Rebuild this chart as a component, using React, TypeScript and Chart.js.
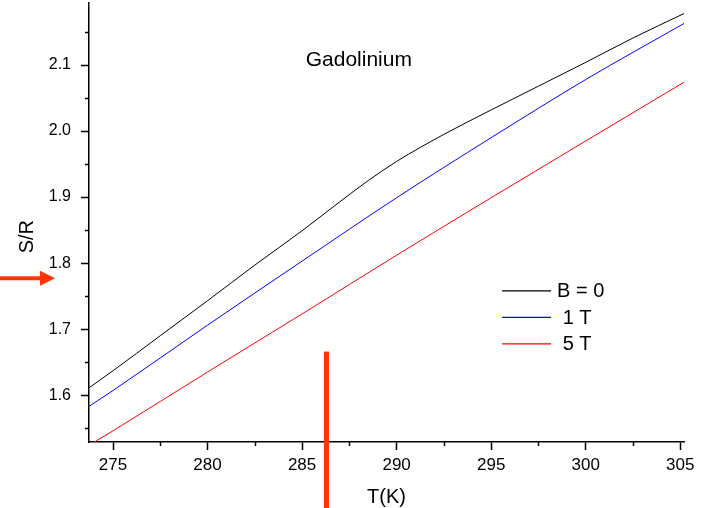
import React, { useEffect, useRef } from "react";
import { Chart, registerables } from "chart.js";
Chart.register(...registerables);

// ---- data ----
const T_B0 = [273.73, 275, 277.5, 280, 282.5, 285, 287, 288.5, 290, 292.5, 295, 297.5, 300, 302.5, 305.2];
const S_B0 = [1.611, 1.637, 1.690, 1.743, 1.797, 1.849, 1.893, 1.925, 1.954, 1.995, 2.032, 2.068, 2.104, 2.141, 2.178];

const T_1T = [273.73, 275, 280, 285, 290, 295, 300, 305.2];
const S_1T = [1.583, 1.607, 1.706, 1.803, 1.899, 1.990, 2.078, 2.163];

const T_5T = [273.73, 275, 280, 285, 290, 295, 300, 305.2];
const S_5T = [1.524, 1.546, 1.635, 1.723, 1.812, 1.899, 1.985, 2.074];

const SERIES_LABELS = ["B = 0", " 1 T", " 5 T"];
const SERIES_COLORS = ["#000000", "#0000ff", "#ff0000"];

const X_MAJOR = [275, 280, 285, 290, 295, 300, 305];
const X_MINOR = [277.5, 282.5, 287.5, 292.5, 297.5, 302.5];
const Y_MAJOR = [1.6, 1.7, 1.8, 1.9, 2.0, 2.1];
const Y_MINOR = [1.55, 1.65, 1.75, 1.85, 1.95, 2.05, 2.15];

const X_MIN = 273.73;
const X_MAX = 305.2;
const Y_MIN = 1.529;
const Y_MAX = 2.194;

const TITLE = "Gadolinium";
const TITLE_T = 288.0;
const TITLE_S = 2.107;
const X_TITLE = "T(K)";
const Y_TITLE = "S/R";
const Y_TITLE_S = 1.84;

// annotation marks
const ARROW_S = 1.777;
const MARK_T = 286.29;
const MARK_TOP_S = 1.666;
const MARK_COLOR = "#ff3300";

// legend anchor (data coords)
const LEGEND_T = 295.58;
const LEGEND_S = 1.758;

const FONT = '"Liberation Sans", Arial, sans-serif';

const zip = (xs: number[], ys: number[]) => xs.map((x, i) => ({ x, y: ys[i] }));

const decor = {
  id: "decor",
  afterDraw(chart: any) {
    const ctx = chart.ctx as CanvasRenderingContext2D;
    const xs = chart.scales.x;
    const ys = chart.scales.y;
    const area = chart.chartArea;
    ctx.save();
    // minor ticks
    ctx.strokeStyle = "#000";
    ctx.lineWidth = 1.5;
    for (const v of Y_MINOR) {
      const py = Math.round(ys.getPixelForValue(v)) + 0.5;
      ctx.beginPath();
      ctx.moveTo(area.left - 4, py);
      ctx.lineTo(area.left, py);
      ctx.stroke();
    }
    for (const v of X_MINOR) {
      const px = Math.round(xs.getPixelForValue(v)) + 0.5;
      ctx.beginPath();
      ctx.moveTo(px, area.bottom);
      ctx.lineTo(px, area.bottom + 4);
      ctx.stroke();
    }
    // title
    ctx.fillStyle = "#000";
    ctx.textAlign = "center";
    ctx.textBaseline = "middle";
    ctx.font = `21px ${FONT}`;
    ctx.fillText(TITLE, xs.getPixelForValue(TITLE_T), ys.getPixelForValue(TITLE_S));
    // axis titles
    ctx.font = `20px ${FONT}`;
    ctx.fillText(X_TITLE, (area.left + area.right) / 2, area.bottom + 55);
    ctx.save();
    ctx.translate(27, ys.getPixelForValue(Y_TITLE_S));
    ctx.rotate(-Math.PI / 2);
    ctx.fillText(Y_TITLE, 0, 0);
    ctx.restore();
    // legend
    const lx = xs.getPixelForValue(LEGEND_T);
    const ly = ys.getPixelForValue(LEGEND_S);
    ctx.textAlign = "left";
    ctx.font = `20px ${FONT}`;
    SERIES_LABELS.forEach((lab, i) => {
      const yy = ly + i * 26.5;
      ctx.strokeStyle = SERIES_COLORS[i];
      ctx.lineWidth = 1.2;
      ctx.beginPath();
      ctx.moveTo(lx, yy);
      ctx.lineTo(lx + 49, yy);
      ctx.stroke();
      ctx.fillStyle = "#000";
      ctx.fillText(lab, lx + 55, yy + 1);
    });
    // red arrow
    const ay = ys.getPixelForValue(ARROW_S);
    const tip = area.left - 34;
    ctx.fillStyle = MARK_COLOR;
    ctx.fillRect(0, ay - 2, tip - 14, 4);
    ctx.beginPath();
    ctx.moveTo(tip - 15, ay - 7.5);
    ctx.lineTo(tip, ay);
    ctx.lineTo(tip - 15, ay + 7.5);
    ctx.closePath();
    ctx.fill();
    // vertical bar
    const mx = xs.getPixelForValue(MARK_T);
    const mtop = ys.getPixelForValue(MARK_TOP_S);
    ctx.fillRect(mx - 2.5, mtop, 5, chart.height - mtop);
    ctx.restore();
  },
};

export default function App() {
  const ref = useRef<HTMLCanvasElement>(null);
  useEffect(() => {
    if (!ref.current) return;
    const seriesT = [T_B0, T_1T, T_5T];
    const seriesS = [S_B0, S_1T, S_5T];
    const chart = new Chart(ref.current, {
      type: "line",
      data: {
        datasets: SERIES_LABELS.map((label, i) => ({
          label,
          data: zip(seriesT[i], seriesS[i]),
          borderColor: SERIES_COLORS[i],
          borderWidth: 1,
          pointRadius: 0,
          fill: false,
          cubicInterpolationMode: "monotone" as const,
        })),
      },
      options: {
        animation: false,
        responsive: false,
        events: [],
        layout: { padding: { top: 3, right: 20, left: 0, bottom: 0 } },
        plugins: { legend: { display: false }, tooltip: { enabled: false } },
        scales: {
          x: {
            type: "linear",
            min: X_MIN,
            max: X_MAX,
            afterBuildTicks: (s: any) => {
              s.ticks = X_MAJOR.map((v) => ({ value: v }));
            },
            afterFit: (s: any) => {
              s.height = 66;
              s.paddingLeft = 0;
              s.paddingRight = 0;
              s.paddingTop = 0;
              s.paddingBottom = 0;
            },
            grid: {
              display: true,
              drawOnChartArea: false,
              drawTicks: true,
              tickLength: 8,
              tickColor: "#000",
              tickWidth: 1.5,
            },
            border: { display: true, color: "#000", width: 1.5 },
            ticks: {
              color: "#000",
              font: { family: FONT, size: 17 },
              padding: 5,
              maxRotation: 0,
              autoSkip: false,
              callback: (v: any) => String(v),
            },
          },
          y: {
            type: "linear",
            min: Y_MIN,
            max: Y_MAX,
            afterBuildTicks: (s: any) => {
              s.ticks = Y_MAJOR.map((v) => ({ value: v }));
            },
            afterFit: (s: any) => {
              s.width = 89;
              s.paddingLeft = 0;
              s.paddingRight = 0;
              s.paddingTop = 0;
              s.paddingBottom = 0;
            },
            grid: {
              display: true,
              drawOnChartArea: false,
              drawTicks: true,
              tickLength: 8,
              tickColor: "#000",
              tickWidth: 1.5,
            },
            border: { display: true, color: "#000", width: 1.5 },
            ticks: {
              color: "#000",
              font: { family: FONT, size: 16 },
              padding: 10,
              autoSkip: false,
              callback: (v: any) => Number(v).toFixed(1),
            },
          },
        },
      },
      plugins: [decor],
    });
    return () => chart.destroy();
  }, []);
  return (
    <div style={{ position: "absolute", left: 0, top: 0, width: 704, height: 508, background: "#fff" }}>
      <canvas ref={ref} width={704} height={508} style={{ display: "block", width: 704, height: 508 }} />
    </div>
  );
}
